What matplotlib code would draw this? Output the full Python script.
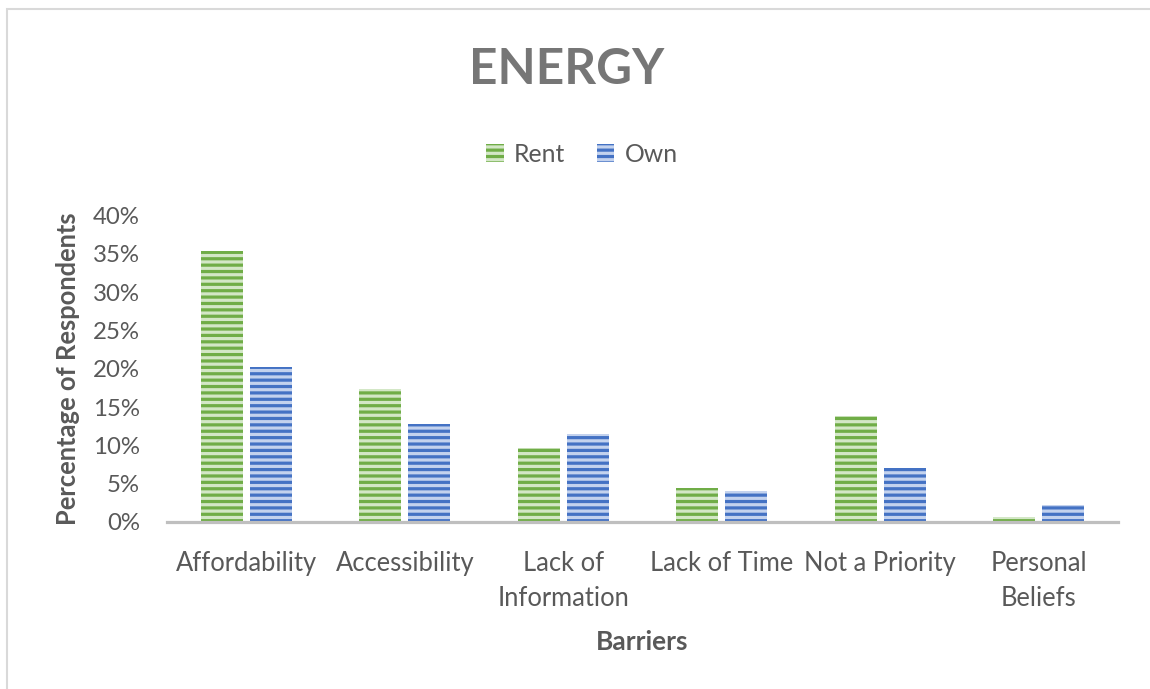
"""Energy barriers by tenure: grouped bar chart with striped fills."""

import matplotlib

matplotlib.use("Agg")
import matplotlib.pyplot as plt
import numpy as np
from matplotlib.patches import Rectangle
from matplotlib.ticker import PercentFormatter

CATEGORIES = [
    "Affordability",
    "Accessibility",
    "Lack of\nInformation",
    "Lack of Time",
    "Not a Priority",
    "Personal\nBeliefs",
]
RENT = [0.354, 0.174, 0.096, 0.044, 0.138, 0.007]
OWN = [0.202, 0.128, 0.115, 0.041, 0.070, 0.022]
Y_TICKS = [0.0, 0.05, 0.10, 0.15, 0.20, 0.25, 0.30, 0.35, 0.40]

TEXT = "#595959"
GREEN_DARK, GREEN_LIGHT = "#70AD47", "#D3E7C6"
BLUE_DARK, BLUE_LIGHT = "#4472C4", "#C3D2EE"

plt.rcParams["font.family"] = ["Lato", "DejaVu Sans"]
plt.rcParams["hatch.linewidth"] = 2.0

W, H, DPI = 1150, 689, 115
fig = plt.figure(figsize=(W / DPI, H / DPI), dpi=DPI)

# light frame around the chart area
fig.patches.append(
    Rectangle((7 / W, -0.05), 1.2, 1 - 9 / H + 0.05, transform=fig.transFigure,
              fill=False, edgecolor="#D9D9D9", linewidth=1.3)
)

ax = fig.add_axes([167 / W, 1 - 522 / H, (1118 - 167) / W, (522 - 215.5) / H])

x = np.arange(len(CATEGORIES))
width = 0.265
offset = 0.155
rent_bars = ax.bar(x - offset, RENT, width, color=GREEN_LIGHT, edgecolor=GREEN_DARK,
                   hatch="---", linewidth=0, label="Rent")
own_bars = ax.bar(x + offset, OWN, width, color=BLUE_LIGHT, edgecolor=BLUE_DARK,
                  hatch="---", linewidth=0, label="Own")

ax.set_xlim(-0.5, len(CATEGORIES) - 0.5)
ax.set_ylim(0, 0.40)
ax.set_yticks(Y_TICKS)
ax.yaxis.set_major_formatter(PercentFormatter(1.0, decimals=0))
ax.set_xticks(x)
ax.set_xticklabels(CATEGORIES, linespacing=1.5)
ax.tick_params(axis="both", length=0, labelcolor=TEXT)
ax.tick_params(axis="y", pad=17, labelsize=15)
ax.tick_params(axis="x", pad=18, labelsize=16)

for side in ("top", "right", "left"):
    ax.spines[side].set_visible(False)
ax.spines["bottom"].set_color("#BFBFBF")
ax.spines["bottom"].set_linewidth(2.0)

ax.set_xlabel("Barriers", fontsize=16.5, fontweight="bold", color=TEXT, labelpad=12)
ax.set_ylabel("Percentage of Respondents", fontsize=16, fontweight="bold",
              color=TEXT, labelpad=8)

fig.text(567 / W, 1 - 70 / H, "ENERGY", ha="center", va="center",
         fontsize=31, fontweight="bold", color="#767676")

fig.legend(handles=[rent_bars, own_bars], loc="center", ncol=2,
           bbox_to_anchor=(582 / W, 1 - 154 / H), frameon=False,
           fontsize=15.5, labelcolor=TEXT, handlelength=0.7, handleheight=0.7,
           handletextpad=0.4, columnspacing=1.3)

fig.savefig("out.png", dpi=DPI)
